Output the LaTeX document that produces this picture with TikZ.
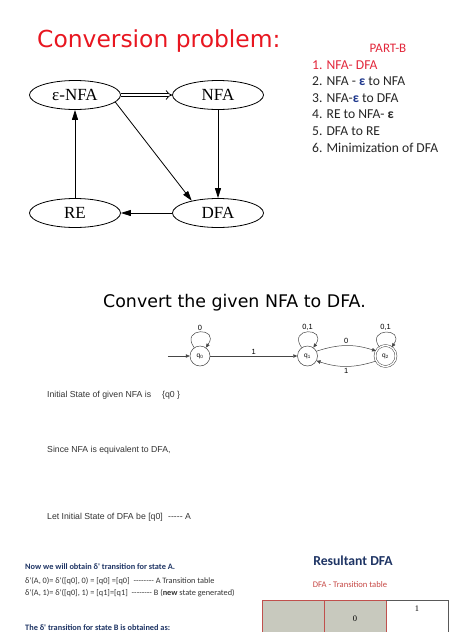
\documentclass[tikz,border=0pt]{standalone}
\usepackage{fontspec}
\usepackage{tikz}
\usepackage{xcolor}
\usetikzlibrary{shapes.geometric, arrows.meta, positioning, calc}
\setmainfont{Liberation Serif}
\newfontfamily\headfont{DejaVu Sans}
\newfontfamily\slidefont{Carlito}
\newfontfamily\notefont{Liberation Sans}
\definecolor{titleRed}{RGB}{232, 22, 32}
\definecolor{partRed}{RGB}{226, 40, 60}
\definecolor{epsBlue}{RGB}{30, 55, 140}
\definecolor{slideNavy}{RGB}{30, 52, 100}
\definecolor{tableRed}{RGB}{192, 80, 77}
\definecolor{cellGray}{RGB}{200, 201, 190}
\definecolor{edgeGray}{RGB}{70, 70, 70}

\begin{document}
\begin{tikzpicture}[x=1pt, y=-1pt,
    convbox/.style={ellipse, draw, line width=0.8pt, minimum width=91pt, minimum height=29pt, inner sep=0pt, font=\fontsize{17}{20}\selectfont},
    convarrow/.style={line width=0.8pt, -{Triangle[length=10pt, width=6pt]}},
    listitem/.style={anchor=base west, inner sep=0pt, text=black!85, font=\slidefont\fontsize{13.6}{16}\selectfont},
    qstate/.style={circle, draw=edgeGray, line width=0.5pt, minimum size=20pt, inner sep=0pt, font=\notefont\fontsize{6.5}{7}\selectfont},
    qedge/.style={draw=edgeGray, line width=0.5pt, -{Triangle[length=4pt, width=3.5pt]}},
    qlabel/.style={inner sep=1.5pt, font=\notefont\fontsize{7.5}{8}\selectfont},
    note/.style={anchor=base west, inner sep=0pt, text=black!80, font=\notefont\fontsize{8.7}{10}\selectfont},
    slidenote/.style={anchor=base west, inner sep=0pt, text=black!80, font=\slidefont\fontsize{8.3}{10}\selectfont}]
\useasboundingbox (0,0) rectangle (474,632);

% conversion problem
\node[anchor=base west, inner sep=0pt, text=titleRed, font=\headfont\fontsize{23.4}{28}\selectfont] (title) at (37,47) {Conversion problem:};
\node[convbox] (epsnfa) at (75,95) {ε-NFA};
\node[convbox] (nfa) at (218,95) {NFA};
\node[convbox] (re) at (75,213) {RE};
\node[convbox] (dfa) at (218,213) {DFA};

\draw[line width=0.8pt, double, double distance=2.4pt, -{Implies[scale=1.6]}] (epsnfa) -- (nfa);
\draw[convarrow] (epsnfa.-10) -- (dfa.155);
\draw[convarrow] (nfa) -- (dfa);
\draw[convarrow] (dfa) -- (re);
\draw[convarrow] (re) -- (epsnfa);

% part B list
\node[anchor=base, inner sep=0pt, text=partRed, font=\slidefont\fontsize{13}{16}\selectfont] (partb) at (388,52.7) {PART-B};
\node[listitem, text=partRed] (item1) at (312,69) {1. NFA- DFA};
\node[listitem] (item2) at (312,85.6) {2. NFA - {\bfseries\color{epsBlue}ε} to NFA};
\node[listitem] (item3) at (312,102.2) {3. NFA-{\bfseries\color{epsBlue}ε} to DFA};
\node[listitem] (item4) at (312,118.8) {4. RE to NFA- {\bfseries ε}};
\node[listitem] (item5) at (312,135.4) {5. DFA to RE};
\node[listitem] (item6) at (312,152) {6. Minimization of DFA};

% given NFA
\node[anchor=base west, inner sep=0pt, font=\headfont\fontsize{17.4}{21}\selectfont] (convert) at (103,307) {Convert the given NFA to DFA.};
\node[qstate] (q0) at (200,356) {q\textsubscript{0}};
\node[qstate, right=87pt of q0] (q1) {q\textsubscript{1}};
\node[qstate, double, double distance=1.4pt, minimum size=21pt, right=57pt of q1] (q2) {q\textsubscript{2}};
\coordinate[left=22pt of q0] (start);

\draw[qedge] (start) -- (q0);
\draw[qedge] (q0) to[out=125, in=55, looseness=5.5] node[qlabel, above] (l00) {0} (q0);
\draw[qedge] (q0) -- node[qlabel, above] (l01) {1} (q1);
\draw[qedge] (q1) to[out=125, in=55, looseness=5.5] node[qlabel, above] (l11) {0,1} (q1);
\draw[qedge] (q1.28) to[bend left=18] node[qlabel, above] (l12) {0} (q2.152);
\draw[qedge] (q2) to[out=125, in=55, looseness=5] node[qlabel, above] (l22) {0,1} (q2);
\draw[qedge] (q2.-152) to[bend left=18] node[qlabel, below] (l21) {1} (q1.-28);

\node[note] (initnfa) at (47,397) {Initial State of given NFA is\hspace*{11pt}\{q0 \}};
\node[note] (equiv) at (47,452) {Since NFA is equivalent to DFA,};
\node[note] (initdfa) at (47,519) {Let Initial State of DFA be [q0]\hspace*{3pt} ----- A};

% transitions for A
\node[slidenote, text=slideNavy, font=\slidefont\bfseries\fontsize{8.3}{10}\selectfont] (obtainA) at (25,569) {Now we will obtain δ' transition for state A.};
\node[slidenote] (transA0) at (25,583) {δ'(A, 0)= δ'([q0], 0) = [q0] =[q0] \hspace*{2pt}-------- A Transition table};
\node[slidenote] (transA1) at (25,595) {δ'(A, 1)= δ'([q0], 1) = [q1]=[q1] \hspace*{2pt}-------- B ({\bfseries new} state generated)};
\node[slidenote, text=slideNavy, font=\slidefont\bfseries\fontsize{8.3}{10}\selectfont] (obtainB) at (25,630) {The δ' transition for state B is obtained as:};

% resultant DFA
\node[anchor=base, inner sep=0pt, text=slideNavy, font=\slidefont\bfseries\fontsize{13.7}{16}\selectfont] (result) at (353,565) {Resultant DFA};
\node[anchor=base, inner sep=0pt, text=tableRed!90!red, font=\slidefont\fontsize{8.6}{10}\selectfont] (tabtitle) at (350,587) {DFA - Transition table};

\fill[cellGray] (262,600) rectangle (386,640);
\draw[tableRed, line width=0.7pt] (262,640) -- (262,600) -- (386,600) -- (386,640);
\draw[tableRed, line width=0.7pt] (324,600) -- (324,640);
\draw[black!65, line width=0.7pt] (386,600) -- (448,600) -- (448,640);
\node[inner sep=0pt, font=\fontsize{8.5}{10}\selectfont] (head0) at (355,619) {0};
\node[inner sep=0pt, font=\fontsize{8.5}{10}\selectfont] (head1) at (417,609) {1};
\end{tikzpicture}
\end{document}
